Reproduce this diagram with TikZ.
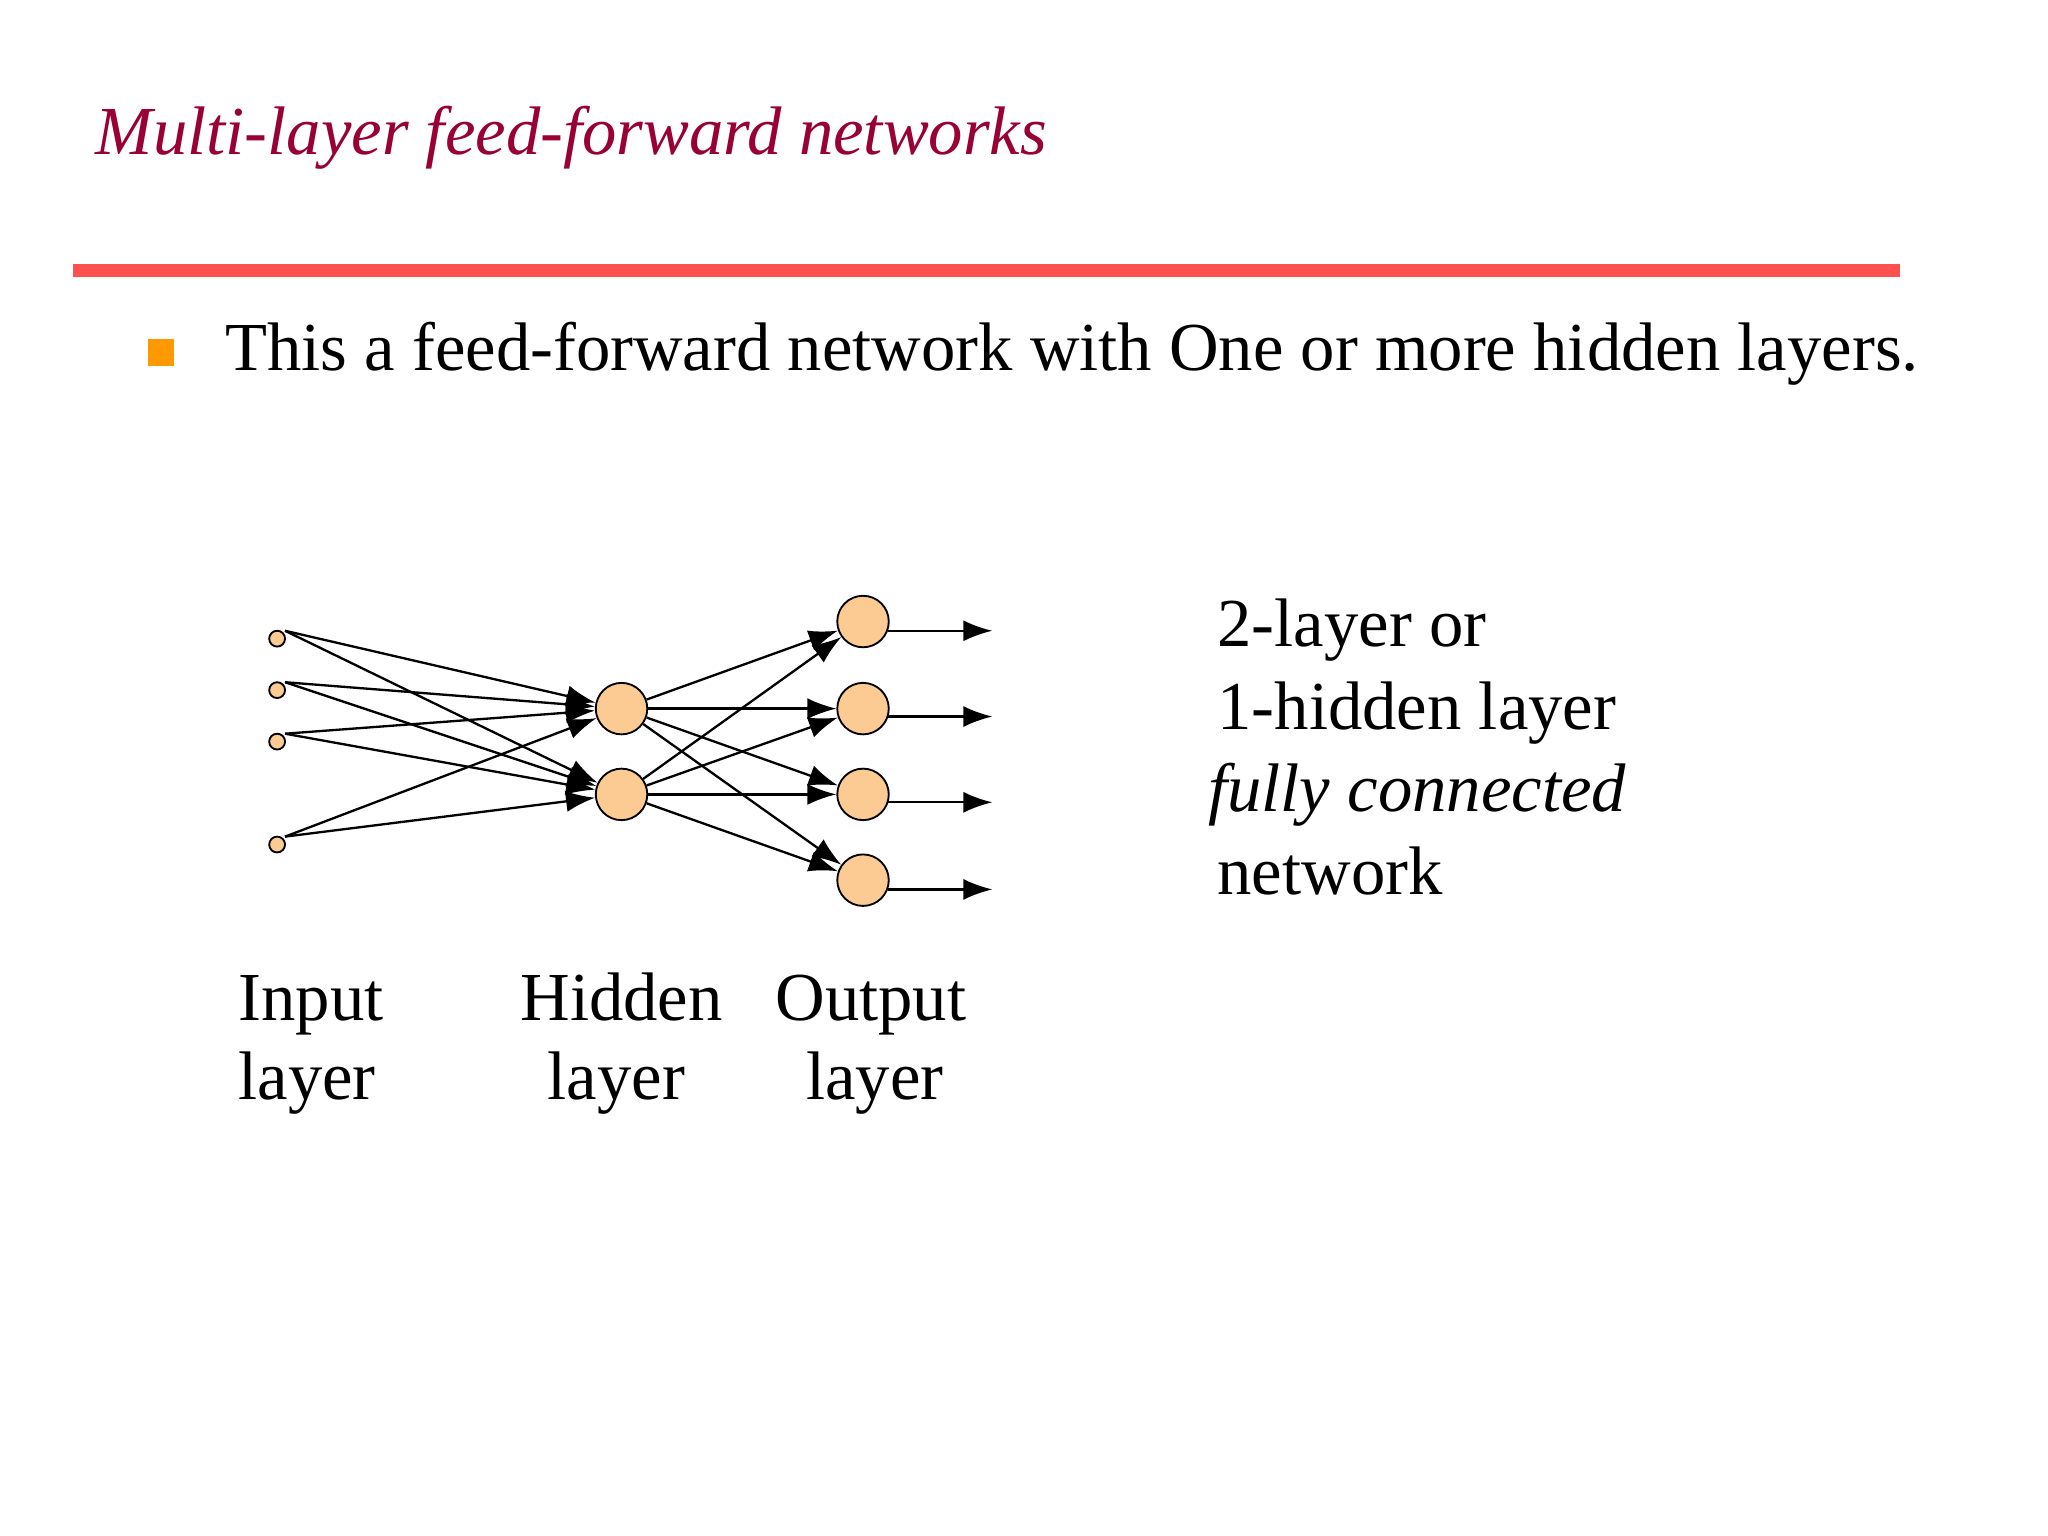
\documentclass[tikz,border=0pt]{standalone}
\usepackage{fontspec}
\setmainfont{Liberation Serif}
\usetikzlibrary{arrows.meta}
\definecolor{ttl}{HTML}{990033}
\definecolor{rl}{HTML}{FF5050}
\definecolor{nd}{HTML}{FCCB93}
\definecolor{bul}{HTML}{FF9900}
\begin{document}
\begin{tikzpicture}[x=0.01cm,y=-0.01cm,
  inp/.style={circle,draw,fill=nd,inner sep=0,minimum size=0.12cm},
  big/.style={circle,draw,fill=nd,inner sep=0,minimum size=0.39cm},
  ar/.style={-{Latex[length=2.2mm,width=1.6mm]},line width=0.5pt},
  txt/.style={font=\fontsize{14.8}{18}\selectfont,anchor=base west,inner sep=0}]
\useasboundingbox (0,0) rectangle (1552,1164);
\node[txt,font=\fontsize{14.8}{18}\selectfont\itshape,text=ttl] (title) at (72,117) {Multi-layer feed-forward networks};
\fill[rl] (55,200) rectangle (1440,210);
\fill[bul] (112,257) rectangle (132,277);
\node[txt] (b) at (170,281) {This a feed-forward network with One or more hidden layers.};
\node[inp] (i1) at (210,484) {};
\node[inp] (i2) at (210,523) {};
\node[inp] (i3) at (210,562) {};
\node[inp] (i4) at (210,640) {};
\node[big] (h1) at (471,537) {};
\node[big] (h2) at (471,602) {};
\node[big] (o1) at (654,471) {};
\node[big] (o2) at (654,537) {};
\node[big] (o3) at (654,602) {};
\node[big] (o4) at (654,667) {};
\foreach \i/\y in {1/478,2/517,3/556,4/634}{
  \coordinate (s\i) at (216,\y);
  \draw[ar] (s\i) -- (h1);
  \draw[ar] (s\i) -- (h2);}
\foreach \h in {1,2}\foreach \o in {1,2,3,4}{\draw[ar] (h\h) -- (o\o);}
\foreach \o/\y in {1/478,2/543,3/608,4/674}{
  \coordinate (e\o) at (752,\y);
  \draw[ar] (673,\y) -- (e\o);}
\node[txt] (l1) at (180,773) {Input};
\node[txt] (l2) at (180,833) {layer};
\node[txt,anchor=base] (l3) at (471,773) {Hidden};
\node[txt,anchor=base] (l4) at (467,833) {layer};
\node[txt,anchor=base] (l5) at (660,773) {Output};
\node[txt,anchor=base] (l6) at (663,833) {layer};
\node[txt] (r1) at (922,490) {2-layer or};
\node[txt] (r2) at (922,553) {1-hidden layer};
\node[txt,font=\fontsize{14.8}{18}\selectfont\itshape] (r3) at (915,615) {fully connected};
\node[txt] (r4) at (922,678) {network};
\end{tikzpicture}
\end{document}
